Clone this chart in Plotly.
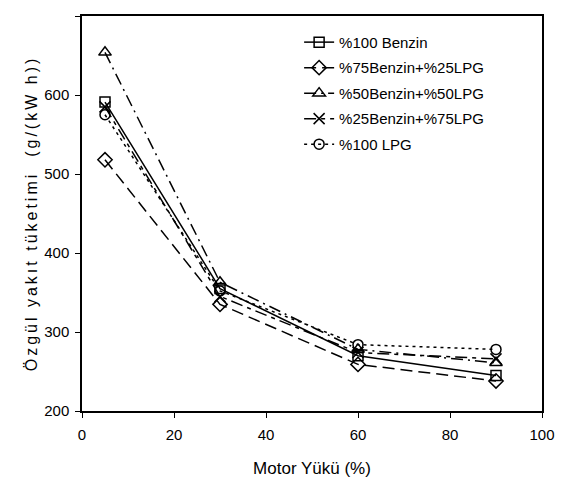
import plotly.graph_objects as go

load = [5, 30, 60, 90]
names = ["%100 Benzin", "%75Benzin+%25LPG", "%50Benzin+%50LPG", "%25Benzin+%75LPG", "%100 LPG"]
benzin100 = [591, 355, 270, 245]
b75_lpg25 = [518, 335, 259, 238]
b50_lpg50 = [654, 363, 278, 261]
b25_lpg75 = [585, 345, 274, 266]
lpg100 = [575, 352, 284, 278]
series = [benzin100, b75_lpg25, b50_lpg50, b25_lpg75, lpg100]

symbols = ["square-open", "diamond-open", "triangle-up-open", "x-thin-open", "circle-open"]
dashes = ["solid", "12px,6px", "12px,5px,2px,5px", "12px,5px,4px,5px", "3px,4px"]
sizes = [10, 11, 11, 11, 10]

fig = go.Figure()
for i, (name, ys, sym, d, s) in enumerate(zip(names, series, symbols, dashes, sizes)):
    fig.add_trace(go.Scatter(
        x=load, y=ys, name=name, mode="lines+markers", legendgroup=f"g{i}",
        line=dict(color="black", width=1.5, dash=d),
        marker=dict(symbol=sym, size=s, color="black", line=dict(color="black", width=1.5)),
    ))

font = "Liberation Sans, Arial, sans-serif"
ytitle = '<span style="letter-spacing:3px">Özgül yakıt tüketimi  (g/(kW h))</span>'
fig.update_layout(
    width=557, height=474,
    margin=dict(l=74, r=23, t=8, b=71),
    paper_bgcolor="white", plot_bgcolor="white",
    font=dict(family=font, size=15, color="black"),
    showlegend=True,
    legend=dict(x=0.472, y=0.975, xanchor="left", yanchor="top",
                bgcolor="rgba(0,0,0,0)", font=dict(size=15, family=font),
                tracegroupgap=3),
    xaxis=dict(range=[0, 100], tickvals=[0, 20, 40, 60, 80, 100],
               showgrid=False, zeroline=False, showline=True, linecolor="black",
               linewidth=1.5, mirror=True, ticks="outside", ticklen=5,
               tickcolor="black", tickfont=dict(size=15), automargin=False,
               ticklabelstandoff=4,
               title=dict(text="Motor Yükü (%)", font=dict(size=17), standoff=20)),
    yaxis=dict(range=[200, 700], tickvals=[200, 300, 400, 500, 600, 700],
               showgrid=False, zeroline=False, showline=True, linecolor="black",
               linewidth=1.5, mirror=True, ticks="outside", ticklen=5,
               tickcolor="black", tickfont=dict(size=15), automargin=False,
               ticklabelstandoff=3,
               title=dict(text=ytitle, font=dict(size=16), standoff=3)),
)

fig.write_html("out.html")
